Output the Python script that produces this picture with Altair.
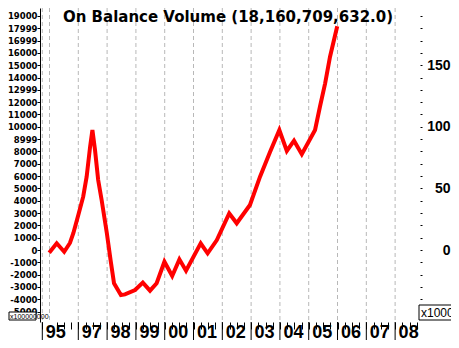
import altair as alt
import pandas as pd

# ---------------- data ----------------
title_text = "On Balance Volume (18,160,709,632.0)"

obv_year = [1995.99, 1996.25, 1996.51, 1996.71, 1996.83, 1997.00, 1997.17, 1997.29,
            1997.41, 1997.49, 1997.58, 1997.69, 1997.81, 1997.99, 1998.12, 1998.24,
            1998.48, 1998.62, 1998.97, 1999.24, 1999.49, 1999.72, 1999.99, 2000.26,
            2000.51, 2000.74, 2001.25, 2001.49, 2001.81, 2002.24, 2002.50, 2002.96,
            2003.31, 2003.66, 2003.98, 2004.24, 2004.49, 2004.76, 2005.22, 2005.39,
            2005.57, 2005.74, 2005.99]
obv_value = [-220, 545, -140, 570, 1380, 2840, 4330, 5950,
             8390, 9740, 8120, 5680, 4060, 1380, -810, -2700,
             -3650, -3600, -3250, -2650, -3300, -2700, -950, -2110,
             -760, -1680, 545, -270, 810, 2980, 2170, 3650,
             5950, 7980, 9740, 8040, 8870, 7770, 9740, 11630,
             13530, 15690, 18160]

x_major_ticks = [1995.75, 1997, 1998, 1999, 2000, 2001, 2002, 2003, 2004, 2005, 2006, 2007, 2008]
x_major_labels = ["95", "97", "98", "99", "00", "01", "02", "03", "04", "05", "06", "07", "08"]
x_minor_ticks = [y + q for y in range(1996, 2009) for q in (0.25, 0.5, 0.75)]
x_grid = [1995.75, 1996, 1997, 1998, 1999, 2000, 2001, 2002, 2003, 2004, 2005, 2006, 2007, 2008]

left_tick_values = [19000, 18000, 17000, 16000, 15000, 14000, 13000, 12000, 11000, 10000,
                    9000, 8000, 7000, 6000, 5000, 4000, 3000, 2000, 1000, 0,
                    -1000, -2000, -3000, -4000, -5000]
left_tick_labels = ["19000", "17999", "16999", "16000", "15000", "14000", "12999", "12000",
                    "11000", "10000", "8999", "8000", "7000", "6000", "5000", "4000", "3000",
                    "2000", "1000", "0", "-1000", "-2000", "-3000", "-4000", "-5000"]

right_tick_values = list(range(-5000, 19001, 1000))
right_label_values = [0, 5000, 10000, 15000]
right_label_texts = ["0", "50", "100", "150"]

multiplier_text = "x100000000"

# ---------------- layout / style ----------------
W, H = 380, 314
X_DOMAIN = [1995.67, 2008.864]
Y_DOMAIN = [-5844, 19643]
NARROW = "Liberation Sans Narrow, Liberation Sans, Arial"
BOLD = "DejaVu Sans"


def lookup_expr(values, labels):
    v = "[" + ",".join(repr(float(x)) for x in values) + "]"
    l = "[" + ",".join("'" + s + "'" for s in labels) + "]"
    return f"indexof({v}, datum.value) >= 0 ? {l}[indexof({v}, datum.value)] : ''"


x_scale = alt.Scale(domain=X_DOMAIN, nice=False, zero=False)
x_axis = alt.Axis(
    values=x_major_ticks + x_minor_ticks,
    labelExpr=lookup_expr(x_major_ticks, x_major_labels),
    title=None, grid=False, domain=False,
    tickSize=7, tickColor="black", tickWidth=1,
    labelAlign="left", labelOffset=3, labelBaseline="alphabetic", labelPadding=8,
    labelFont=NARROW, labelFontSize=18, labelFontWeight="bold", labelColor="black",
    labelOverlap=False, labelFlush=False,
)

line_df = pd.DataFrame({"year": obv_year, "obv": obv_value})
grid_df = pd.DataFrame({"year": x_grid})
major_df = pd.DataFrame({"year": x_major_ticks})

grid = alt.Chart(grid_df).mark_rule(color="#b8b8b8", strokeWidth=1, strokeDash=[4, 3]).encode(
    x=alt.X("year:Q", scale=x_scale, axis=x_axis)
)

major_ticks = alt.Chart(major_df).mark_rule(color="black", strokeWidth=1).encode(
    x=alt.X("year:Q", scale=x_scale, axis=x_axis),
    y=alt.value(H), y2=alt.value(H + 20),
)

line = alt.Chart(line_df).mark_line(color="#ff0000", strokeWidth=4, strokeJoin="miter").encode(
    x=alt.X("year:Q", scale=x_scale, axis=x_axis),
    y=alt.Y("obv:Q", scale=alt.Scale(domain=Y_DOMAIN, nice=False, zero=False),
            axis=alt.Axis(orient="left", values=left_tick_values,
                          labelExpr=lookup_expr(left_tick_values, left_tick_labels),
                          title=None, grid=False, domain=True, domainColor="black",
                          tickSize=3, tickColor="black", labelPadding=0,
                          labelFont=BOLD, labelFontSize=8.5, labelFontWeight="bold",
                          labelColor="black", labelOverlap=False, labelFlush=False)),
)

right_axis = alt.Chart(line_df).mark_line(opacity=0).encode(
    x=alt.X("year:Q", scale=x_scale, axis=x_axis),
    y=alt.Y("obv:Q", scale=alt.Scale(domain=Y_DOMAIN, nice=False, zero=False),
            axis=alt.Axis(orient="right", values=right_tick_values,
                          labelExpr=lookup_expr(right_label_values, right_label_texts),
                          title=None, grid=False, domain=False,
                          tickSize=2, tickColor="black", labelPadding=28,
                          labelAlign="right", labelBaseline="middle",
                          labelFont=NARROW, labelFontSize=14, labelFontWeight="bold",
                          labelColor="black", labelOverlap=False, labelFlush=False)),
)

title = alt.Chart(pd.DataFrame({"t": [title_text]})).mark_text(
    font=BOLD, fontSize=15, fontWeight="bold", color="black",
    align="center", baseline="alphabetic"
).encode(text="t:N", x=alt.value(188), y=alt.value(14))

box_df = pd.DataFrame({"t": [multiplier_text]})
right_box = alt.Chart(box_df).mark_rect(fill="white", stroke="black", strokeWidth=1).encode(
    x=alt.value(379), x2=alt.value(430), y=alt.value(297), y2=alt.value(312)
)
right_box_text = alt.Chart(box_df).mark_text(
    font="Liberation Sans", fontSize=12, color="black", align="left", baseline="alphabetic"
).encode(text="t:N", x=alt.value(381), y=alt.value(309))

left_box = alt.Chart(box_df).mark_rect(fill="white", stroke="black", strokeWidth=1).encode(
    x=alt.value(-31), x2=alt.value(-4), y=alt.value(304), y2=alt.value(312)
)
left_box_text = alt.Chart(box_df).mark_text(
    font="Liberation Sans", fontSize=7, color="black", align="left", baseline="alphabetic"
).encode(text="t:N", x=alt.value(-30), y=alt.value(311))

chart = alt.layer(
    grid, major_ticks, line, right_axis, title, right_box, right_box_text, left_box, left_box_text
).resolve_scale(y="independent").properties(
    width=W, height=H,
    autosize=alt.AutoSizeParams(type="none"),
    padding={"left": 32, "right": 31, "top": 0, "bottom": 18},
).configure_view(strokeWidth=0)

chart.save("out.html", embed_options={"renderer": "svg", "actions": False})
